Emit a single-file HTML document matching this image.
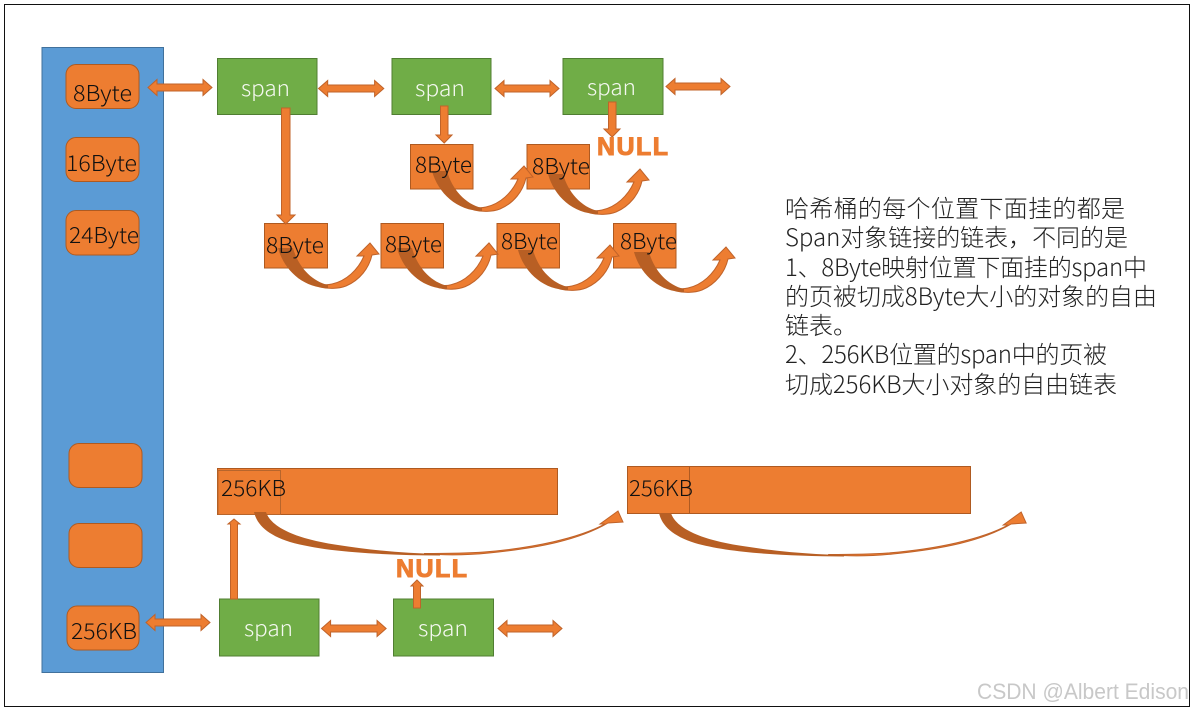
<!DOCTYPE html>
<html>
<head>
<meta charset="utf-8">
<style>
html,body{margin:0;padding:0;background:#fff;width:1194px;height:710px;overflow:hidden}
svg{display:block}
text{font-family:"Liberation Sans","Noto Sans CJK SC",sans-serif}
.l{font-family:"Noto Sans CJK SC","Liberation Sans",sans-serif;font-size:22px;fill:#111;font-weight:300}
.s{font-family:"Noto Sans CJK SC","Liberation Sans",sans-serif;font-size:22px;fill:#f4f8f0;font-weight:300}
.n{font-family:"Liberation Sans",sans-serif;font-weight:bold;font-size:25px;fill:#ed7d31;stroke:#ed7d31;stroke-width:1}
.p{font-family:"Noto Sans CJK SC","Liberation Sans",sans-serif;font-size:24px;fill:#222;font-weight:300}
.o{fill:#ed7d31;stroke:#ae5a21;stroke-width:1}
.g{fill:#70ad47;stroke:#507e32;stroke-width:1}
.a{fill:#ed7d31;stroke:#c0632a;stroke-width:1}
.d{fill:#b85f24}
</style>
</head>
<body>
<svg width="1194" height="710" viewBox="0 0 1194 710" xmlns="http://www.w3.org/2000/svg">
<defs>
<g id="c">
<path class="a" d="M42,39 C50,41 60,41 68,38 C82,32 91,20 94,7 L101,6 L92,-5 L79,8 L86,8 C80,22 68,33 54,36 C50,37 46,37 42,36Z"/>
<path class="d" d="M0,0 L15,0 C20,18 33,33 50,37 L50,40 C25,40 6,22 0,0Z"/>
</g>
<path id="dh" class="a" d="M0,0 L9,-8 L9,-3.5 L55,-3.5 L55,-8 L64,0 L55,8 L55,3.5 L9,3.5 L9,8Z"/>
<g id="big">
<path class="a" d="M170,41.5 C190,43.5 210,43.5 235,41 C285,36 325,28 354,11 L369,10 L364,-1 L346,12 L351,12 C325,26 280,36 230,40 C210,41.5 190,41.5 170,41.5Z"/>
<path class="d" d="M0,0 L12,0 C18,18 50,28 84,33 C116,38 146,41 186,42 L186,43.5 C126,43 71,40 36,30 C14,23 3,13 0,0Z"/>
</g>
</defs>
<rect width="1194" height="710" fill="#fff"/>
<rect x="4.5" y="4.5" width="1185" height="702" fill="none" stroke="#111" stroke-width="1"/>

<rect x="42" y="47.5" width="121.5" height="625" fill="#5b9bd5" stroke="#41719c" stroke-width="1"/>
<rect class="o" x="66" y="64.5" width="73" height="44" rx="10"/>
<rect class="o" x="66" y="137.5" width="73" height="44" rx="10"/>
<rect class="o" x="66" y="210.5" width="73" height="44.5" rx="10"/>
<rect class="o" x="69" y="443.5" width="73" height="44" rx="10"/>
<rect class="o" x="69" y="523.5" width="73" height="44" rx="10"/>
<rect class="o" x="67" y="606" width="72" height="44" rx="10"/>

<rect class="g" x="217.5" y="58.5" width="99.5" height="56"/>
<rect class="g" x="392" y="58.5" width="99" height="56"/>
<rect class="g" x="563" y="58.5" width="100" height="56"/>
<rect class="g" x="219.5" y="599" width="99.5" height="57"/>
<rect class="g" x="393.5" y="599" width="100" height="57"/>

<rect class="o" x="264.5" y="223.5" width="63" height="44.5"/>
<rect class="o" x="381" y="223.5" width="62.5" height="44.5"/>
<rect class="o" x="497" y="223.5" width="62.5" height="44.5"/>
<rect class="o" x="613.5" y="223.5" width="62.5" height="44.5"/>
<rect class="o" x="410.5" y="144.5" width="62.5" height="44.5"/>
<rect class="o" x="527" y="144.5" width="62.5" height="44.5"/>

<rect class="o" x="217.5" y="468.5" width="340" height="46"/>
<rect x="218" y="470.5" width="62.5" height="44" fill="#ed7d31" stroke="#b7652c" stroke-width="1"/>
<rect class="o" x="627.5" y="466.5" width="343" height="47"/>
<line x1="689.5" y1="467" x2="689.5" y2="513" stroke="#ae5a21"/>

<use href="#dh" x="148" y="87.5"/>
<use href="#dh" transform="translate(318.5 88.5) scale(1.02 1)"/>
<use href="#dh" x="495" y="88.5"/>
<use href="#dh" x="666" y="86.5"/>
<use href="#dh" x="146" y="622.5"/>
<use href="#dh" transform="translate(321.5 628.5) scale(1.01 1)"/>
<use href="#dh" x="498" y="628.5"/>

<path class="a" d="M281.5,108 H290 V215 H295 L285.7,224 L277,215 H281.5Z"/>
<path class="a" d="M440.5,106 H448 V135 H452 L444.2,143 L436,135 H440.5Z"/>
<path class="a" d="M608.5,102 H616 V129 H620 L612.2,137 L604,129 H608.5Z"/>
<path class="a" d="M230.5,599 V524 H228 L234,519 L240,524 H237.5 V599Z"/>
<path class="a" d="M413.5,608 V586 H411 L417,580 L423,586 H420.5 V608Z"/>

<use href="#c" x="278" y="248"/>
<use href="#c" transform="translate(397 248) scale(1 1.02)"/>
<use href="#c" transform="translate(518 250) scale(1 1)"/>
<use href="#c" transform="translate(634 252) scale(1 1)"/>
<use href="#c" x="432" y="171"/>
<use href="#c" x="548" y="174"/>
<use href="#big" x="254" y="512"/>
<use href="#big" transform="translate(659 513) scale(.995 1)"/>

<text class="l" x="73" y="101" textLength="59" lengthAdjust="spacingAndGlyphs">8Byte</text>
<text class="l" x="66" y="171" textLength="71" lengthAdjust="spacingAndGlyphs">16Byte</text>
<text class="l" x="69" y="243" textLength="70" lengthAdjust="spacingAndGlyphs">24Byte</text>
<text class="l" x="71" y="639" textLength="66" lengthAdjust="spacingAndGlyphs">256KB</text>
<text class="l" x="266" y="253" textLength="58" lengthAdjust="spacingAndGlyphs">8Byte</text>
<text class="l" x="385" y="252" textLength="57" lengthAdjust="spacingAndGlyphs">8Byte</text>
<text class="l" x="501" y="249" textLength="57" lengthAdjust="spacingAndGlyphs">8Byte</text>
<text class="l" x="620" y="249" textLength="57" lengthAdjust="spacingAndGlyphs">8Byte</text>
<text class="l" x="415" y="172.5" textLength="57" lengthAdjust="spacingAndGlyphs">8Byte</text>
<text class="l" x="532" y="174" textLength="58" lengthAdjust="spacingAndGlyphs">8Byte</text>
<text class="l" x="221" y="496" textLength="65" lengthAdjust="spacingAndGlyphs">256KB</text>
<text class="l" x="629" y="496" textLength="64" lengthAdjust="spacingAndGlyphs">256KB</text>

<text class="s" x="241" y="96" textLength="49" lengthAdjust="spacingAndGlyphs">span</text>
<text class="s" x="415" y="96" textLength="50" lengthAdjust="spacingAndGlyphs">span</text>
<text class="s" x="587" y="95" textLength="49" lengthAdjust="spacingAndGlyphs">span</text>
<text class="s" x="244" y="636" textLength="49" lengthAdjust="spacingAndGlyphs">span</text>
<text class="s" x="418" y="636" textLength="50" lengthAdjust="spacingAndGlyphs">span</text>

<text class="n" x="597" y="155" textLength="71" lengthAdjust="spacing">NULL</text>
<text class="n" x="396" y="577" textLength="71" lengthAdjust="spacing">NULL</text>

<text class="p" x="785" y="217" textLength="340">哈希桶的每个位置下面挂的都是</text>
<text class="p" x="785" y="246" textLength="343">Span对象链接的链表，不同的是</text>
<text class="p" x="785" y="276" textLength="362">1、8Byte映射位置下面挂的span中</text>
<text class="p" x="785" y="305" textLength="372">的页被切成8Byte大小的对象的自由</text>
<text class="p" x="785" y="334">链表。</text>
<text class="p" x="785" y="363" textLength="322">2、256KB位置的span中的页被</text>
<text class="p" x="785" y="393" textLength="332">切成256KB大小对象的自由链表</text>

<text x="977" y="699" font-size="22" fill="#c8c8c8" textLength="212" lengthAdjust="spacingAndGlyphs">CSDN @Albert Edison</text>
</svg>
</body>
</html>
